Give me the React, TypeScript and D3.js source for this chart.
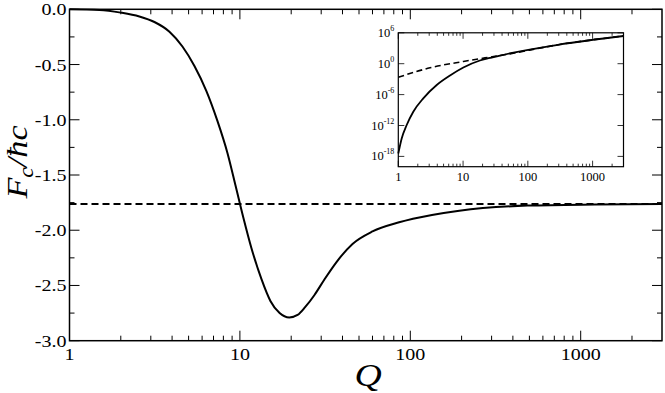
import React from 'react';
import * as d3 from 'd3';

// main curve F_c / hbar c against Q
const mainQ = [1, 1.5, 2, 2.57, 3.15, 3.86, 4.6, 5.41, 6.36, 7.38, 8.45, 9.41, 10.49, 11.68, 13.37, 15.1, 17.1, 19.5, 21.8, 24.2, 27.4, 31.2, 36.8, 45.8, 60, 86, 134, 194, 488, 1210, 3000];
const mainF = [0, -0.006, -0.03, -0.065, -0.115, -0.203, -0.337, -0.513, -0.74, -1.01, -1.3, -1.59, -1.889, -2.16, -2.441, -2.64, -2.75, -2.79, -2.767, -2.694, -2.586, -2.45, -2.29, -2.124, -2.011, -1.928, -1.862, -1.823, -1.777, -1.767, -1.763];
const limitF = -1.762;

// inset, log-log
const insetQ = [1, 1.128, 1.348, 1.704, 2.43, 3.92, 6.29, 10.1, 18.2, 26, 37.2, 314, 3000];
const insetSolid = [3.6e-18, 3e-15, 1.26e-12, 4.8e-10, 1.9e-7, 7.3e-5, 5.1e-3, 0.18, 4.2, 13, 39, 5400, 2.4e5];
const insetDashQ = [1, 3.09, 10.1, 26, 37.2, 314, 3000];
const insetDash = [2.3e-3, 0.16, 2.7, 19, 39, 5400, 2.4e5];

const xMajor = [1, 10, 100, 1000];
const yMajor = [0, -0.5, -1, -1.5, -2, -2.5, -3];
const insetYMajor = [-18, -12, -6, 0, 6];

const W = 665, H = 393;
const FONT = "'Times New Roman', 'Liberation Serif', 'Nimbus Roman', Times, 'DejaVu Serif', serif";

function minorLog(max: number) {
  const out: number[] = [];
  for (let d = 1; d <= 1000; d *= 10)
    for (let k = 2; k <= 9; k++) if (k * d < max) out.push(k * d);
  return out;
}

export default function App() {
  const x = d3.scaleLog().domain([1, 3000]).range([69.5, 662]);
  const y = d3.scaleLinear().domain([-3, 0]).range([340.7, 9.3]);
  const [x0, x1] = x.range();
  const [y0, y1] = y.range();

  const xi = d3.scaleLog().domain([1, 3000]).range([398.3, 623.5]);
  const yi = d3.scaleLog().domain([1e-20, 1e6]).range([166.7, 32.8]);
  const [ix0, ix1] = xi.range();
  const [iy0, iy1] = yi.range();

  const mainLine = d3.line<number>()
    .x((_, i) => x(mainQ[i]))
    .y(d => y(d))
    .curve(d3.curveMonotoneX);
  const solidLine = d3.line<number>()
    .x((_, i) => xi(insetQ[i]))
    .y(d => yi(d))
    .curve(d3.curveMonotoneX);
  const dashLine = d3.line<number>()
    .x((_, i) => xi(insetDashQ[i]))
    .y(d => yi(d))
    .curve(d3.curveMonotoneX);

  const minors = minorLog(3000);
  const yMinor = d3.range(-2.75, 0, 0.5);
  const sx = 1.18; // labels in the picture are a bit wide

  return (
    <svg width={W} height={H} style={{ position: 'absolute', left: 0, top: 0, fontFamily: FONT }}>
      <rect width={W} height={H} fill="#fff" />
      {/* main curves */}
      <line x1={x0} x2={x1} y1={y(limitF)} y2={y(limitF)} stroke="#000" strokeWidth={2} strokeDasharray="7,4" />
      <path d={mainLine(mainF) || ''} fill="none" stroke="#000" strokeWidth={2} />

      {/* frame + ticks */}
      <rect x={x0} y={y1} width={x1 - x0} height={y0 - y1} fill="none" stroke="#000" strokeWidth={1.5} />
      {xMajor.map(q => (
        <g key={'xm' + q}>
          <line x1={x(q)} x2={x(q)} y1={y0} y2={y0 - 10} stroke="#000" />
          <line x1={x(q)} x2={x(q)} y1={y1} y2={y1 + 10} stroke="#000" />
          <text transform={`translate(${x(q)},${y0 + 19}) scale(${sx},1)`} textAnchor="middle" fontSize={17}>{q}</text>
        </g>
      ))}
      {minors.map(q => (
        <g key={'xn' + q}>
          <line x1={x(q)} x2={x(q)} y1={y0} y2={y0 - 5} stroke="#000" />
          <line x1={x(q)} x2={x(q)} y1={y1} y2={y1 + 5} stroke="#000" />
        </g>
      ))}
      {yMajor.map(v => (
        <g key={'ym' + v}>
          <line x1={x0} x2={x0 + 10} y1={y(v)} y2={y(v)} stroke="#000" />
          <line x1={x1} x2={x1 - 10} y1={y(v)} y2={y(v)} stroke="#000" />
          <text transform={`translate(${x0 - 3},${y(v) + 6}) scale(${sx},1)`} textAnchor="end" fontSize={17}>{d3.format('.1f')(v).replace('−', '-')}</text>
        </g>
      ))}
      {yMinor.map(v => (
        <g key={'yn' + v}>
          <line x1={x0} x2={x0 + 5} y1={y(v)} y2={y(v)} stroke="#000" />
          <line x1={x1} x2={x1 - 5} y1={y(v)} y2={y(v)} stroke="#000" />
        </g>
      ))}

      {/* axis titles */}
      <text transform={`translate(27,162) rotate(-90) scale(${sx},1)`} textAnchor="middle" fontSize={29} fontStyle="italic">
        F<tspan fontSize={20} dy={6}>c</tspan><tspan dy={-6}>/ħc</tspan>
      </text>
      <text transform={`translate(368,386) scale(${sx},1)`} textAnchor="middle" fontSize={32} fontStyle="italic">Q</text>

      {/* inset */}
      <rect x={ix0} y={iy1} width={ix1 - ix0} height={iy0 - iy1} fill="#fff" />
      <path d={dashLine(insetDash) || ''} fill="none" stroke="#000" strokeWidth={1.6} strokeDasharray="6,3.5" />
      <path d={solidLine(insetSolid) || ''} fill="none" stroke="#000" strokeWidth={1.8} />
      <rect x={ix0} y={iy1} width={ix1 - ix0} height={iy0 - iy1} fill="none" stroke="#000" strokeWidth={1.2} />
      {xMajor.map(q => (
        <g key={'ixm' + q}>
          <line x1={xi(q)} x2={xi(q)} y1={iy0} y2={iy0 - 6} stroke="#000" strokeWidth={0.8} />
          <line x1={xi(q)} x2={xi(q)} y1={iy1} y2={iy1 + 6} stroke="#000" strokeWidth={0.8} />
          <text x={xi(q)} y={iy0 + 14} textAnchor="middle" fontSize={12.5}>{q}</text>
        </g>
      ))}
      {minors.map(q => (
        <g key={'ixn' + q}>
          <line x1={xi(q)} x2={xi(q)} y1={iy0} y2={iy0 - 3} stroke="#000" strokeWidth={0.8} />
          <line x1={xi(q)} x2={xi(q)} y1={iy1} y2={iy1 + 3} stroke="#000" strokeWidth={0.8} />
        </g>
      ))}
      {insetYMajor.map(e => (
        <g key={'iym' + e}>
          <line x1={ix0} x2={ix0 + 6} y1={yi(Math.pow(10, e))} y2={yi(Math.pow(10, e))} stroke="#000" strokeWidth={0.8} />
          <line x1={ix1} x2={ix1 - 6} y1={yi(Math.pow(10, e))} y2={yi(Math.pow(10, e))} stroke="#000" strokeWidth={0.8} />
          <text x={ix0 - 4} y={yi(Math.pow(10, e)) + 4} textAnchor="end" fontSize={12.5}>
            10<tspan fontSize={8} dy={-6}>{e}</tspan>
          </text>
        </g>
      ))}
    </svg>
  );
}
